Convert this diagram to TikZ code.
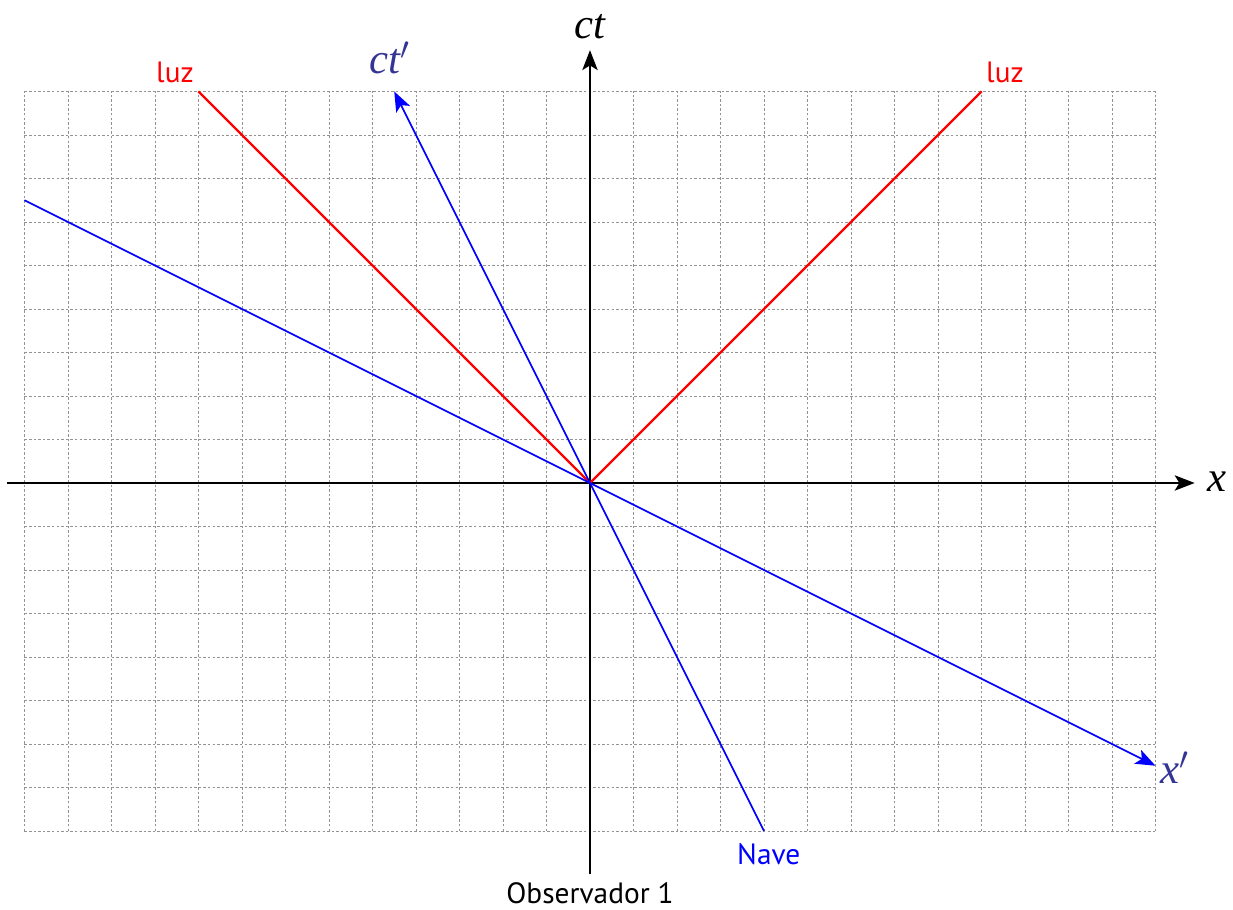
\documentclass[tikz,border=0pt]{standalone}
\usepackage{fontspec}
\setsansfont{PT Sans}
\newfontfamily\mathlbl{Liberation Serif}
\usetikzlibrary{arrows.meta}

\definecolor{labelblue}{RGB}{52,52,150}

\tikzset{
    gridline/.style={gray!85, line width=0.6pt, dash pattern=on 1.6pt off 1.4pt},
    axisline/.style={black, line width=1.4pt, -{Stealth[length=13pt,width=10pt,inset=3pt]}},
    lightline/.style={red, line width=1.5pt},
    shipline/.style={blue, line width=1.1pt},
    shiparrow/.style={blue, line width=1.1pt, -{Stealth[length=13pt,width=10pt,inset=3pt]}},
    txt/.style={font=\sffamily\fontsize{19.2}{21}\selectfont, inner sep=0pt},
    mlbl/.style={font=\mathlbl\itshape\fontsize{28}{30}\selectfont, inner sep=0pt}
  }

\begin{document}
\begin{tikzpicture}
    \useasboundingbox (-13.563,-9.816) rectangle (14.782,11.103);

    % rejilla
    \draw[gridline] (-13,-8) grid (13,9);

    \coordinate (O) at (0,0);
    \coordinate (xl) at (-13.4,0);
    \coordinate (xr) at (13.9,0);
    \coordinate (tb) at (0,-9);
    \coordinate (tt) at (0,9.95);
    \coordinate (luzL) at (-9,9);
    \coordinate (luzR) at (9,9);
    \coordinate (naveB) at (4,-8);
    \coordinate (naveT) at (-4.5,9);
    \coordinate (xpL) at (-13,6.5);
    \coordinate (xpR) at (13,-6.5);

    % ejes del observador 1
    \draw[axisline] (xl) -- (xr);
    \draw[axisline] (tb) -- (tt);

    % luz
    \draw[lightline] (O) -- (luzL);
    \draw[lightline] (O) -- (luzR);

    % nave
    \draw[shiparrow] (naveB) -- (naveT);
    \draw[shiparrow] (xpL) -- (xpR);

    \node[mlbl] (ct) at (0,10.48) {ct};
    \node[mlbl] (x) at (14.41,0.02) {x};
    \node[mlbl, labelblue] (ctp) at (-4.6,9.77) {ct$'$};
    \node[mlbl, labelblue] (xp) at (13.45,-6.55) {x$'$};

    \node[txt, red] (luz1) at (-9.54,9.43) {luz};
    \node[txt, red] (luz2) at (9.54,9.43) {luz};
    \node[txt, blue] (nave) at (4.11,-8.53) {Nave};
    \node[txt] (obs) at (0,-9.42) {Observador 1};

\end{tikzpicture}
\end{document}
